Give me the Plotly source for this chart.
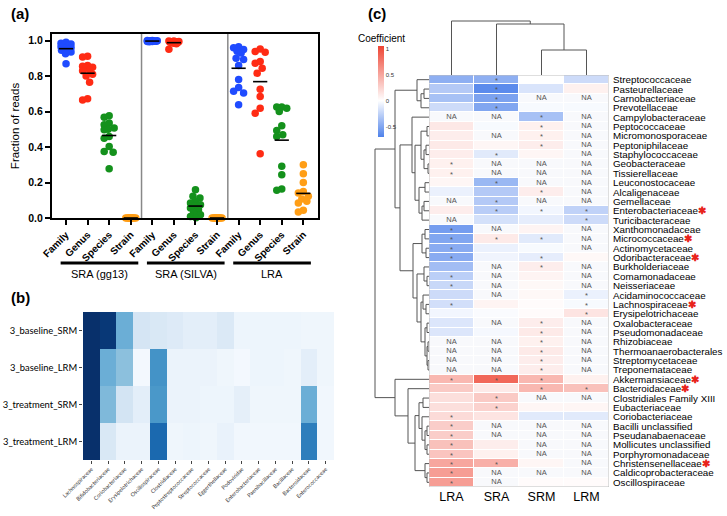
import numpy as np
import plotly.graph_objects as go
import plotly.express as px

W, H = 727, 516
ARIAL = "Liberation Sans, Arial, sans-serif"


def fx(p):
    return p / W


def fy(p):
    return 1 - p / H


# ---------------- (a) fraction of reads ----------------
levels = ["Family", "Genus", "Species", "Strain"]
groups = ["SRA (gg13)", "SRA (SILVA)", "LRA"]
level_colors = ["#1f4bff", "#ff2b14", "#14911c", "#ff9e16"]

gg13_family = [0.99, 0.985, 0.98, 0.975, 0.97, 0.965, 0.96, 0.955, 0.95, 0.945, 0.935, 0.925, 0.87]
gg13_genus = [0.912, 0.908, 0.86, 0.855, 0.85, 0.845, 0.835, 0.83, 0.81, 0.80, 0.765, 0.672, 0.665]
gg13_species = [0.576, 0.568, 0.535, 0.525, 0.507, 0.5, 0.497, 0.46, 0.45, 0.403, 0.375, 0.37, 0.278]
gg13_strain = [0.0, 0.0, 0.0, 0.0, 0.0, 0.0, 0.0, 0.0, 0.0, 0.0, 0.0, 0.0, 0.0]
silva_family = [1.0, 1.0, 0.999, 0.999, 0.998, 0.998, 0.997, 0.997, 0.996, 0.996, 0.995, 0.995, 0.994]
silva_genus = [0.998, 0.997, 0.995, 0.994, 0.993, 0.992, 0.991, 0.99, 0.989, 0.988, 0.985, 0.982, 0.951]
silva_species = [0.159, 0.122, 0.113, 0.094, 0.085, 0.075, 0.066, 0.056, 0.047, 0.028, 0.019, 0.009, 0.002]
silva_strain = [0.0, 0.0, 0.0, 0.0, 0.0, 0.0, 0.0, 0.0, 0.0, 0.0, 0.0, 0.0, 0.0]
lra_family = [0.965, 0.96, 0.95, 0.94, 0.93, 0.90, 0.893, 0.86, 0.78, 0.735, 0.715, 0.705, 0.638]
lra_genus = [0.953, 0.938, 0.934, 0.882, 0.872, 0.844, 0.816, 0.726, 0.685, 0.619, 0.591, 0.362]
lra_species = [0.625, 0.625, 0.619, 0.6, 0.52, 0.493, 0.469, 0.46, 0.291, 0.244, 0.163, 0.156]
lra_strain = [0.3, 0.25, 0.2, 0.15, 0.141, 0.122, 0.107, 0.094, 0.084, 0.043, 0.034]

strip_data = [
    gg13_family, gg13_genus, gg13_species, gg13_strain,
    silva_family, silva_genus, silva_species, silva_strain,
    lra_family, lra_genus, lra_species, lra_strain,
]

# ---------------- (b) relative abundance heatmap ----------------
b_samples = ["3_baseline_SRM", "3_baseline_LRM", "3_treatment_SRM", "3_treatment_LRM"]
b_taxa = ["Lachnospiraceae", "Bifidobacteriaceae", "Coriobacteriaceae", "Erysipelotrichaceae",
          "Oscillospiraceae", "Clostridiaceae", "Peptostreptococcaceae", "Streptococcaceae",
          "Eggerthellaceae", "Podoviridae", "Enterobacteriaceae", "Paenibacillaceae",
          "Bacillaceae", "Bacteroidaceae", "Enterococcaceae"]
baseline_srm = [1.0, 0.97, 0.5, 0.17, 0.15, 0.13, 0.1, 0.1, 0.14, 0.05, 0.05, 0.05, 0.05, 0.04, 0.04]
baseline_lrm = [1.0, 0.5, 0.42, 0.02, 0.62, 0.06, 0.06, 0.06, 0.04, 0.02, 0.05, 0.05, 0.04, 0.1, 0.04]
treatment_srm = [1.0, 0.45, 0.18, 0.1, 0.6, 0.06, 0.06, 0.05, 0.05, 0.09, 0.04, 0.04, 0.04, 0.5, 0.03]
treatment_lrm = [1.0, 0.15, 0.06, 0.06, 0.78, 0.04, 0.05, 0.04, 0.07, 0.03, 0.03, 0.03, 0.03, 0.7, 0.03]

# ---------------- (c) coefficient heatmap ----------------
c_methods = ["LRA", "SRA", "SRM", "LRM"]
c_families = [
    "Streptococcaceae", "Pasteurellaceae", "Carnobacteriaceae", "Prevotellaceae",
    "Campylobacteraceae", "Peptococcaceae", "Micromonosporaceae", "Peptoniphilaceae",
    "Staphylococcaceae", "Geobacteraceae", "Tissierellaceae", "Leuconostocaceae",
    "Alcaligenaceae", "Gemellaceae", "Enterobacteriaceae", "Turicibacteraceae",
    "Xanthomonadaceae", "Micrococcaceae", "Actinomycetaceae", "Odoribacteraceae",
    "Burkholderiaceae", "Comamonadaceae", "Neisseriaceae", "Acidaminococcaceae",
    "Lachnospiraceae", "Erysipelotrichaceae", "Oxalobacteraceae", "Pseudomonadaceae",
    "Rhizobiaceae", "Thermoanaerobacterales", "Streptomycetaceae", "Treponemataceae",
    "Akkermansiaceae", "Bacteroidaceae", "Clostridiales Family XIII", "Eubacteriaceae",
    "Coriobacteriaceae", "Bacilli unclassified", "Pseudanabaenaceae", "Mollicutes unclassified",
    "Porphyromonadaceae", "Christensenellaceae", "Caldicoprobacteraceae", "Oscillospiraceae",
]
highlighted = ["Enterobacteriaceae", "Micrococcaceae", "Odoribacteraceae", "Lachnospiraceae",
               "Akkermansiaceae", "Bacteroidaceae", "Christensenellaceae"]

coef_LRA = [-0.45, -0.3, -0.35, -0.2, None, 0.13, 0.1, 0.12, 0.1, 0.08, 0.08, 0.05,
            -0.08, None, 0.1, None, -0.55, -0.5, -0.47, -0.47, -0.37, -0.27, -0.22, -0.2,
            -0.18, -0.05, -0.14, -0.14, None, None, None, None,
            0.4, 0.3, 0.18, 0.18, 0.2, 0.28, 0.28, 0.35, 0.33, 0.5, 0.55, 0.55]
coef_SRA = [-0.45, -0.65, -0.52, -0.5, None, -0.03, None, 0.05, -0.12, None, None, -0.4,
            -0.3, -0.3, -0.28, -0.17, None, 0.12, -0.08, -0.06, None, None, None, None,
            0.06, -0.02, None, -0.04, None, None, None, None,
            0.85, 0.12, 0.3, 0.25, 0.15, None, None, 0.1, 0.08, 0.45, None, None]
coef_SRM = [0.0, -0.15, None, -0.03, -0.35, 0.08, 0.08, 0.1, 0.05, None, None, None,
            0.1, None, -0.05, -0.1, 0.06, -0.12, -0.03, -0.1, 0.1, 0.06, 0.04, 0.04,
            0.02, 0.02, 0.1, 0.12, 0.08, 0.12, 0.1, 0.1,
            0.4, 0.4, None, 0.05, -0.12, None, None, None, None, 0.05, None, 0.02]
coef_LRM = [-0.2, 0.08, None, -0.03, None, None, None, None, None, None, None, None,
            None, None, -0.25, -0.2, None, None, None, 0.04, None, None, None, -0.08,
            -0.03, 0.15, None, None, None, None, None, None,
            0.08, 0.35, None, 0.05, -0.12, None, None, None, None, None, None, 0.02]

sig_LRA = [9, 10, 16, 17, 18, 19, 21, 22, 24, 32, 36, 37, 38, 39, 40, 41, 42, 43]
sig_SRA = [0, 1, 2, 3, 8, 11, 13, 14, 17, 32, 34, 35, 41]
sig_SRM = [4, 5, 6, 7, 12, 14, 17, 19, 20, 26, 27, 28, 29, 30, 31, 32, 33]
sig_LRM = [14, 15, 23, 24, 25, 33]

# clustering trees: (left, right, merge height); leaves are row / column indices
row_tree = (
    ((0, ((1, 2, 5), 3, 8), 12),
     ((4, (((5, 6, 2), ((7, 8, 3), (9, 10, 1), 5), 8),
           ((11, 12, 4), ((13, 14, 5), 15, 7), 10), 14), 17),
      (((16, 17, 4), (18, 19, 3), 7),
       ((20, (21, 22, 2), 5),
        ((23, (24, 25, 3), 6), ((26, 27, 2), ((28, 29, 1), (30, 31, 1), 2), 4), 8), 12), 16), 29), 34),
    (32, (33, (((34, 35, 6), (36, ((37, 38, 2), (39, 40, 2), 4), 7), 10),
               (41, (42, 43, 2), 4), 14), 21), 34),
    54,
)
col_tree = (0, (1, (2, 3, 25), 51), 54)


def swarm(values, px_x=21.6, px_y=177.3, d=7.0, maxw=5.0):
    # simple beeswarm offsets (in category units)
    placed = []
    offs = [0.0] * len(values)
    cands = sorted(np.arange(-maxw, maxw + 0.01, 0.5), key=abs)
    for i in np.argsort(values)[::-1]:
        yi = values[i] * px_y
        best, bestd = 0.0, -1.0
        for c in cands:
            md = min([np.hypot(c - a, yi - b) for a, b in placed], default=1e9)
            if md >= d:
                best = c
                break
            if md > bestd:
                best, bestd = c, md
        placed.append((best, yi))
        offs[i] = best / px_x
    return offs


def dendro_segments(tree):
    # returns (pos, height, list of (pos0,h0,pos1,h1) segments)
    if not isinstance(tree, tuple):
        return float(tree), 0.0, []
    left, right, h = tree
    p1, h1, s1 = dendro_segments(left)
    p2, h2, s2 = dendro_segments(right)
    segs = s1 + s2 + [(p1, h1, p1, h), (p1, h, p2, h), (p2, h2, p2, h)]
    return (p1 + p2) / 2, h, segs


fig = go.Figure()

# ---- (a) strip plot
for k, vals in enumerate(strip_data):
    offs = swarm(vals)
    fig.add_trace(go.Scatter(
        x=[k + o for o in offs], y=vals, mode="markers", xaxis="x", yaxis="y",
        marker=dict(size=7.5, color=level_colors[k % 4], line=dict(width=0)),
        cliponaxis=False, showlegend=False, hoverinfo="skip",
    ))
mx, my = [], []
for k, vals in enumerate(strip_data):
    m = float(np.mean(vals))
    mx += [k - 0.33, k + 0.33, None]
    my += [m, m, None]
fig.add_trace(go.Scatter(x=mx, y=my, mode="lines", xaxis="x", yaxis="y",
                         line=dict(color="black", width=1.6), showlegend=False, hoverinfo="skip"))

# ---- (b) heatmap
fig.add_trace(go.Heatmap(
    z=[baseline_srm, baseline_lrm, treatment_srm, treatment_lrm],
    x=list(range(len(b_taxa))), y=list(range(len(b_samples))),
    xaxis="x2", yaxis="y2", colorscale=px.colors.sequential.Blues,
    zmin=0, zmax=1, showscale=False, hoverinfo="skip",
))

# ---- (c) heatmap
zc = np.array([coef_LRA, coef_SRA, coef_SRM, coef_LRM], dtype=float).T
na_mask = np.where(np.isnan(zc), 1.0, np.nan)
fig.add_trace(go.Heatmap(
    z=na_mask, xaxis="x3", yaxis="y3", colorscale=[[0, "#f8f9fc"], [1, "#f8f9fc"]],
    showscale=False, xgap=1, ygap=1, hoverinfo="skip",
))
fig.add_trace(go.Heatmap(
    z=zc, xaxis="x3", yaxis="y3", zmin=-0.7, zmax=1.05, xgap=1, ygap=1,
    colorscale=[[0, "#4f82ea"], [0.4, "#ffffff"], [1, "#ee4433"]], hoverinfo="skip",
    colorbar=dict(x=fx(378), xanchor="left", y=fy(46), yanchor="top", len=91, lenmode="pixels",
                  thickness=6, thicknessmode="pixels", xpad=0, ypad=0, outlinewidth=0,
                  tickvals=[-0.5, 0, 0.5, 1], ticktext=["-0.5", "0", "0.5", "1"],
                  tickfont=dict(size=6, family=ARIAL, color="#333"), ticks=""),
))
sigs = [sig_LRA, sig_SRA, sig_SRM, sig_LRM]
tx, ty, tt = [], [], []
for j in range(len(c_methods)):
    for i in range(len(c_families)):
        if np.isnan(zc[i, j]):
            tx.append(j); ty.append(i); tt.append("NA")
        elif i in sigs[j]:
            tx.append(j); ty.append(i + 0.15); tt.append("*")
fig.add_trace(go.Scatter(x=tx, y=ty, text=tt, mode="text", xaxis="x3", yaxis="y3",
                         textfont=dict(size=7.5, color="#555", family=ARIAL),
                         showlegend=False, hoverinfo="skip"))

# dendrograms
_, _, rsegs = dendro_segments(row_tree)
dx, dy = [], []
for p0, h0, p1, h1 in rsegs:
    dx += [-h0, -h1, None]
    dy += [p0, p1, None]
fig.add_trace(go.Scatter(x=dx, y=dy, mode="lines", xaxis="x5", yaxis="y5", cliponaxis=False,
                         line=dict(color="#555", width=1), showlegend=False, hoverinfo="skip"))
_, _, csegs = dendro_segments(col_tree)
dx, dy = [], []
for p0, h0, p1, h1 in csegs:
    dx += [p0, p1, None]
    dy += [h0, h1, None]
fig.add_trace(go.Scatter(x=dx, y=dy, mode="lines", xaxis="x4", yaxis="y4", cliponaxis=False,
                         line=dict(color="#555", width=1), showlegend=False, hoverinfo="skip"))

shapes = []
for xv in [3.5, 7.5]:
    shapes.append(dict(type="line", xref="x", yref="y domain", x0=xv, x1=xv, y0=0, y1=1,
                       line=dict(color="#888", width=1.5)))
annotations = []
for g, name in enumerate(groups):
    c = g * 4 + 1.55
    shapes.append(dict(type="line", xref="x", yref="paper", x0=c - 1.8, x1=c + 1.8,
                       y0=fy(263), y1=fy(263), line=dict(color="black", width=3)))
    annotations.append(dict(text=name, xref="x", yref="paper", x=c, y=fy(274), showarrow=False,
                            font=dict(size=11, family=ARIAL, color="black")))
shapes.append(dict(type="rect", xref="x3", yref="y3", x0=-0.5, x1=3.5, y0=-0.5, y1=43.5,
                   line=dict(color="#bdbdbd", width=1), layer="above"))

# row labels of (c), placed just right of the heatmap
for i, f in enumerate(c_families):
    txt = f + ('<span style="color:#e8231b"><b>✱</b></span>' if f in highlighted else "")
    annotations.append(dict(text=txt, xref="paper", yref="y3", x=fx(611), y=i,
                            xanchor="left", yanchor="middle", showarrow=False,
                            font=dict(size=9.8, family=ARIAL, color="black")))

for lab, xp, yp in [("(a)", 9, 13), ("(b)", 9, 297), ("(c)", 366, 13)]:
    annotations.append(dict(text="<b>" + lab + "</b>", xref="paper", yref="paper", x=fx(xp), y=fy(yp),
                            xanchor="left", yanchor="middle", showarrow=False,
                            font=dict(size=15, family=ARIAL, color="black")))
annotations.append(dict(text="Coefficient", xref="paper", yref="paper", x=fx(356), y=fy(38),
                        xanchor="left", yanchor="middle", showarrow=False,
                        font=dict(size=10, family=ARIAL, color="black")))

bold = dict(size=10, family=ARIAL, color="black", weight="bold")
fig.update_layout(
    width=W, height=H, margin=dict(l=0, r=0, t=0, b=0, autoexpand=False),
    paper_bgcolor="white", plot_bgcolor="white", showlegend=False,
    font=dict(family=ARIAL, color="black"),
    xaxis=dict(domain=[fx(52), fx(318)], anchor="y", range=[-0.65, 11.68], automargin=False,
               tickvals=list(range(12)), ticktext=levels * 3, tickangle=-45, tickfont=bold,
               showline=True, linewidth=2, linecolor="black", mirror=True,
               ticks="outside", ticklen=5, tickwidth=2, tickcolor="black", showgrid=False, zeroline=False),
    yaxis=dict(domain=[fy(218), fy(34)], anchor="x", range=[0, 1.037], automargin=False,
               tickvals=[0, 0.2, 0.4, 0.6, 0.8, 1.0], tickformat=".1f",
               tickfont=dict(size=10.5, family=ARIAL, color="black", weight="bold"),
               showline=True, linewidth=2, linecolor="black", mirror=True,
               ticks="outside", ticklen=5, tickwidth=2, tickcolor="black", showgrid=False, zeroline=False,
               title=dict(text="Fraction of reads", font=dict(size=11.5, family=ARIAL), standoff=6)),
    xaxis2=dict(domain=[fx(83), fx(334)], anchor="y2", range=[-0.5, 14.5], automargin=False,
                tickvals=list(range(len(b_taxa))), ticktext=b_taxa, tickangle=-45,
                tickfont=dict(size=5.5, family="Lato, sans-serif", color="#333"),
                ticks="outside", ticklen=3, tickcolor="#444", showgrid=False, zeroline=False),
    yaxis2=dict(domain=[fy(460), fy(312)], anchor="x2", range=[3.5, -0.5], automargin=False,
                tickvals=list(range(len(b_samples))), ticktext=b_samples,
                tickfont=dict(size=9.4, family="Lato, sans-serif", color="black"),
                ticks="outside", ticklen=3, tickcolor="#444", showgrid=False, zeroline=False),
    xaxis3=dict(domain=[fx(429), fx(609)], anchor="y3", range=[-0.5, 3.5], automargin=False,
                tickvals=list(range(4)), ticktext=c_methods,
                tickfont=dict(size=12.5, family=ARIAL, color="black"),
                ticks="", showgrid=False, zeroline=False),
    yaxis3=dict(domain=[fy(487), fy(75)], anchor="x3", range=[43.5, -0.5], automargin=False,
                showticklabels=False, ticks="", showgrid=False, zeroline=False),
    xaxis4=dict(domain=[fx(429), fx(609)], anchor="y4", range=[-0.5, 3.5], visible=False),
    yaxis4=dict(domain=[fy(75), fy(20)], anchor="x4", range=[0, 55], visible=False),
    xaxis5=dict(domain=[fx(374), fx(429)], anchor="y5", range=[-55, 0], visible=False),
    yaxis5=dict(domain=[fy(487), fy(75)], anchor="x5", range=[43.5, -0.5], visible=False),
    shapes=shapes, annotations=annotations,
)

# the page's default body margin would offset the figure by 8px
fig.write_html("out.html", config={"displayModeBar": False},
               post_script="document.body.style.margin='0';")
